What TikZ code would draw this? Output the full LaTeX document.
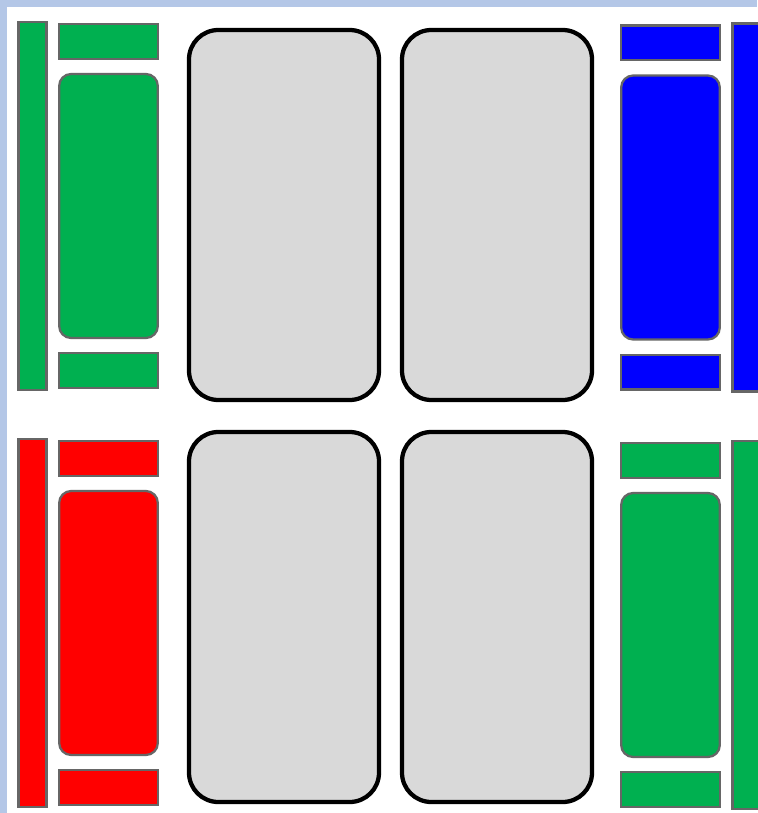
\documentclass[tikz,border=0pt]{standalone}
\usepackage{tikz}
\usetikzlibrary{positioning}
\definecolor{framebg}{RGB}{180,199,231}
\definecolor{padgreen}{RGB}{0,176,80}
\definecolor{padred}{RGB}{255,0,0}
\definecolor{padblue}{RGB}{0,0,255}
\definecolor{cardgray}{RGB}{217,217,217}

\begin{document}
\begin{tikzpicture}[x=0.75pt,y=-0.75pt,
          part/.style={draw=black!60,line width=1.7pt,inner sep=0pt,outer sep=0pt},
          vbar/.style={part,minimum width=21pt,minimum height=276pt},
          hbar/.style={part,minimum width=74pt,minimum height=26pt},
          pad/.style={part,rounded corners=9pt,minimum width=74pt,minimum height=198pt},
          card/.style={draw=black,line width=3.2pt,rounded corners=22pt,fill=cardgray,
                       minimum width=142.5pt,minimum height=277.5pt,inner sep=0pt}]
        \useasboundingbox (0,0) rectangle (757,813);
        \fill[framebg] (0,0) rectangle (757,813);
        \fill[white] (7,7) rectangle (757,813);
        % the four grey cards in the middle
        \foreach \nm/\cx/\cy in {ca/284/215,cb/497/215,cc/284/617,cd/497/617}
          \node[card] (\nm) at (\cx,\cy) {};
        % coloured stacks at the sides
        \foreach \nm/\col/\px/\py/\side in {tl/padgreen/108.5/206/left,
                                           bl/padred/108.5/623/left,
                                           tr/padblue/670.5/207.5/right,
                                           br/padgreen/670.5/625/right} {
          \node[pad,fill=\col] (\nm pad) at (\px,\py) {};
          \node[hbar,fill=\col,above=11.5pt of \nm pad] (\nm top) {};
          \node[hbar,fill=\col,below=11.5pt of \nm pad] (\nm bot) {};
          \node[vbar,fill=\col,\side=9.5pt of \nm pad] (\nm bar) {};
        }
      \end{tikzpicture}
\end{document}
